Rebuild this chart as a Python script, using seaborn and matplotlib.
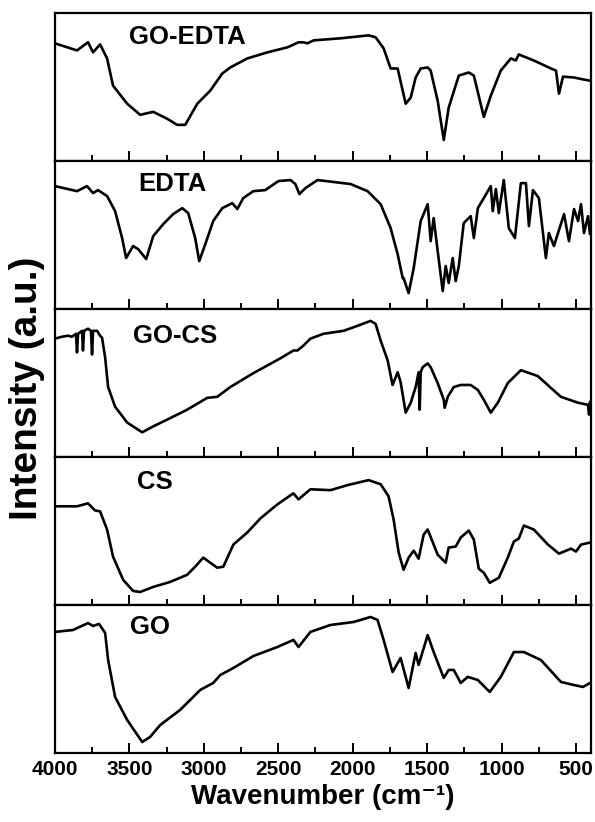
import matplotlib
matplotlib.use("Agg")
import matplotlib.pyplot as plt
import seaborn as sns
import pandas as pd

# ---------------- data ----------------
labels = ["GO-EDTA", "EDTA", "GO-CS", "CS", "GO"]

go_edta_wn = [4000, 3852, 3778, 3744, 3697, 3650, 3610, 3515, 3428, 3340, 3246, 3179, 3125, 3044,
              2957, 2876, 2822, 2708, 2573, 2438, 2364, 2331, 2304, 2263, 2082, 1893, 1846, 1792,
              1745, 1698, 1644, 1610, 1577, 1543, 1496, 1476, 1429, 1388, 1355, 1287, 1220, 1186,
              1119, 1072, 1005, 937, 904, 884, 783, 668, 634, 614, 587, 513, 446, 406]
go_edta_t = [79.6, 74.8, 80.3, 73.5, 78.9, 69.4, 51.0, 38.8, 31.3, 33.3, 28.6, 24.5, 24.5, 38.8,
             47.6, 59.2, 63.3, 69.4, 73.5, 76.9, 80.3, 80.3, 79.6, 81.6, 83.0, 85.0, 83.7, 76.2,
             62.6, 62.6, 38.8, 42.9, 56.5, 62.6, 63.3, 61.2, 40.8, 14.3, 36.1, 57.8, 59.9, 57.8,
             29.9, 44.2, 61.2, 69.4, 68.0, 72.1, 68.0, 62.6, 61.2, 45.6, 57.1, 56.5, 55.1, 54.4]

edta_wn = [4000, 3852, 3785, 3744, 3711, 3650, 3596, 3549, 3522, 3475, 3441, 3387, 3340, 3273,
           3206, 3145, 3105, 3058, 3031, 2990, 2937, 2876, 2809, 2775, 2735, 2667, 2587, 2499,
           2418, 2385, 2358, 2317, 2236, 2014, 1900, 1812, 1745, 1698, 1664, 1658, 1624, 1590,
           1543, 1496, 1476, 1456, 1429, 1395, 1375, 1355, 1328, 1308, 1287, 1254, 1207, 1186,
           1159, 1072, 1059, 1038, 1018, 985, 951, 910, 870, 836, 816, 789, 749, 702, 682, 648,
           580, 547, 513, 486, 466, 446, 419, 406]
edta_t = [83.1, 79.7, 83.1, 78.4, 80.4, 76.4, 66.2, 48.0, 34.5, 42.6, 40.5, 33.8, 49.3, 57.4,
          64.2, 68.2, 64.9, 48.0, 32.4, 43.9, 59.5, 68.2, 71.6, 67.6, 75.0, 79.7, 80.4, 86.5,
          87.2, 84.5, 77.7, 81.8, 87.2, 84.5, 79.7, 70.9, 54.7, 37.2, 20.9, 20.9, 10.8, 27.7,
          59.5, 70.9, 45.9, 61.5, 39.2, 12.2, 29.1, 17.6, 34.5, 18.9, 29.1, 58.1, 62.8, 48.0,
          68.2, 83.1, 66.2, 81.1, 64.9, 87.2, 54.7, 48.0, 85.1, 85.1, 56.1, 80.4, 75.0, 34.5,
          51.4, 42.6, 64.2, 45.9, 67.6, 59.5, 70.9, 51.4, 62.8, 50.7]

go_cs_wn = [4000, 3953, 3912, 3886, 3859, 3852, 3845, 3818, 3812, 3805, 3778, 3758, 3751, 3744,
            3717, 3697, 3684, 3663, 3643, 3596, 3515, 3414, 3340, 3246, 3112, 2977, 2910, 2822,
            2667, 2486, 2398, 2371, 2331, 2284, 2196, 2061, 1967, 1880, 1846, 1812, 1765, 1732,
            1698, 1678, 1644, 1610, 1577, 1557, 1550, 1543, 1530, 1496, 1476, 1429, 1388, 1382,
            1361, 1321, 1274, 1207, 1159, 1119, 1072, 1025, 958, 870, 756, 668, 601, 486, 419,
            412, 406]
go_cs_t = [80.0, 81.3, 82.0, 81.3, 83.3, 70.7, 83.3, 85.3, 72.0, 85.3, 86.7, 85.3, 69.3, 85.3,
           85.3, 82.0, 80.7, 67.3, 47.3, 34.0, 23.3, 16.7, 20.7, 25.3, 32.0, 40.0, 40.7, 47.3,
           56.7, 66.7, 72.0, 72.0, 75.3, 80.0, 83.3, 85.3, 88.7, 92.0, 90.0, 78.7, 65.3, 48.7,
           57.3, 50.7, 30.0, 36.7, 47.3, 57.3, 32.0, 57.3, 60.7, 63.3, 60.7, 50.0, 38.7, 33.3,
           40.7, 47.3, 48.7, 48.7, 45.3, 38.7, 30.0, 36.7, 50.0, 58.7, 54.7, 46.7, 40.7, 36.7,
           35.3, 28.7, 37.3]

cs_wn = [4000, 3852, 3778, 3731, 3697, 3650, 3610, 3542, 3475, 3428, 3340, 3226, 3112, 3058,
         3004, 2957, 2910, 2869, 2802, 2708, 2620, 2506, 2398, 2364, 2284, 2149, 2035, 1893,
         1812, 1759, 1725, 1691, 1658, 1624, 1590, 1557, 1523, 1496, 1429, 1375, 1355, 1308,
         1274, 1220, 1186, 1153, 1119, 1079, 1018, 958, 917, 884, 850, 783, 688, 614, 533, 500,
         466, 406]
cs_t = [66.7, 66.7, 68.7, 63.9, 63.3, 51.0, 32.7, 17.0, 9.5, 8.8, 12.2, 15.6, 20.4, 25.9,
        32.0, 28.6, 25.2, 25.9, 40.8, 49.0, 58.5, 68.0, 75.5, 71.4, 78.2, 77.6, 81.0, 84.4,
        81.6, 73.5, 57.8, 35.4, 23.8, 32.0, 36.7, 31.3, 47.6, 51.0, 34.0, 28.6, 38.8, 39.5,
        45.6, 50.3, 44.2, 24.5, 21.8, 15.0, 18.4, 32.0, 42.9, 44.9, 53.7, 51.0, 40.8, 34.7,
        38.1, 36.1, 40.8, 42.2]

go_wn = [4000, 3879, 3778, 3744, 3704, 3663, 3643, 3596, 3515, 3414, 3361, 3293, 3159, 3024,
         2937, 2889, 2802, 2667, 2506, 2398, 2364, 2284, 2149, 1994, 1880, 1833, 1792, 1732,
         1678, 1624, 1577, 1557, 1496, 1456, 1388, 1355, 1321, 1274, 1227, 1159, 1079, 1005,
         917, 850, 735, 601, 513, 453, 406]
go_t = [81.8, 83.1, 87.8, 85.8, 87.2, 81.1, 62.8, 37.8, 22.3, 7.4, 10.8, 18.9, 29.1, 42.6,
        47.3, 52.7, 57.4, 65.5, 71.6, 76.4, 71.6, 81.8, 86.5, 88.5, 91.9, 89.9, 76.4, 54.7,
        64.2, 43.9, 67.6, 59.5, 79.7, 68.2, 50.7, 56.1, 56.1, 47.3, 51.4, 49.3, 41.2, 51.4,
        68.2, 68.2, 62.8, 48.0, 45.9, 44.6, 47.3]

series = [(go_edta_wn, go_edta_t), (edta_wn, edta_t), (go_cs_wn, go_cs_t),
          (cs_wn, cs_t), (go_wn, go_t)]

major_ticks = [4000, 3500, 3000, 2500, 2000, 1500, 1000, 500]
minor_ticks = [3750, 3250, 2750, 2250, 1750, 1250, 750]

# ---------------- style ----------------
sns.set_style("ticks")
plt.rcParams["font.family"] = ["Liberation Sans", "DejaVu Sans"]
plt.rcParams["font.weight"] = "bold"
for key in ["text.color", "axes.labelcolor", "xtick.color", "ytick.color", "axes.edgecolor"]:
    plt.rcParams[key] = "black"

fig, axes = plt.subplots(5, 1, figsize=(5.95, 8.22), dpi=100, sharex=True,
                         gridspec_kw=dict(hspace=0))
fig.subplots_adjust(left=0.0924, right=0.993, top=0.984, bottom=0.084)

label_pos = [(0.138, 0.84), (0.155, 0.845), (0.146, 0.82), (0.153, 0.83), (0.14, 0.85)]

for ax, (wn, t), lab, (lx, ly) in zip(axes, series, labels, label_pos):
    df = pd.DataFrame({"wn": wn, "t": t})
    sns.lineplot(data=df, x="wn", y="t", ax=ax, color="black", linewidth=1.9,
                 sort=False, estimator=None, solid_joinstyle="round", solid_capstyle="round")
    ax.set_xlim(4000, 400)
    ax.set_ylim(0, 100)
    ax.set_yticks([])
    ax.set_ylabel("")
    ax.set_xlabel("")
    ax.set_xticks(major_ticks)
    ax.set_xticks(minor_ticks, minor=True)
    ax.tick_params(axis="x", which="major", direction="in", length=7.5, width=1.4,
                   top=False, bottom=True, color="black")
    ax.tick_params(axis="x", which="minor", direction="in", length=4, width=1.4,
                   top=False, bottom=True, color="black")
    for sp in ax.spines.values():
        sp.set_linewidth(1.6)
        sp.set_color("black")
        sp.set_visible(True)
    ax.text(lx, ly, lab, transform=ax.transAxes, ha="left", va="center",
            fontsize=18.5, fontweight="bold", color="black")

for ax in axes[:-1]:
    ax.tick_params(axis="x", labelbottom=False)

axes[-1].tick_params(axis="x", labelsize=15, pad=5, labelcolor="black")
for tl in axes[-1].get_xticklabels():
    tl.set_fontweight("bold")
axes[-1].set_xlabel("Wavenumber (cm\u207b\u00b9)", fontsize=20, fontweight="bold",
                    labelpad=4, color="black")

fig.text(0.046, 0.528, "Intensity (a.u.)", rotation=90, ha="center", va="center",
         fontsize=28, fontweight="bold", color="black")

fig.savefig("out.png", dpi=100)
